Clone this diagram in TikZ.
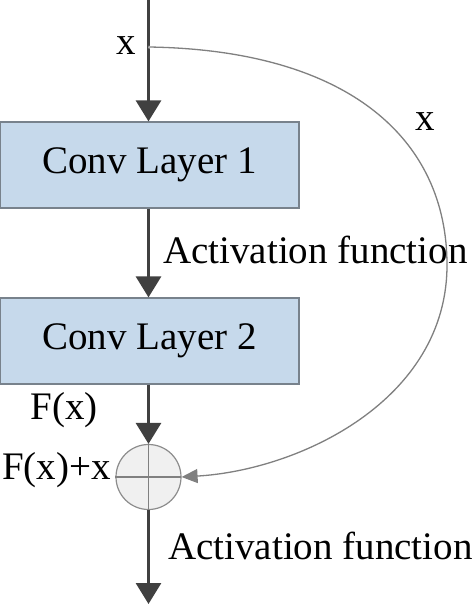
\documentclass[tikz,border=0pt]{standalone}
\usepackage{fontspec}
\setmainfont{Liberation Serif}
\usetikzlibrary{arrows.meta}
\definecolor{boxblue}{RGB}{198,217,235}
\definecolor{boxedge}{RGB}{120,130,140}
\definecolor{arr}{RGB}{64,64,64}
\begin{document}
\begin{tikzpicture}[x=1pt,y=-1pt,
  layer/.style={draw=boxedge,line width=1.2pt,fill=boxblue,minimum width=299pt,minimum height=86pt,inner sep=0pt,font=\fontsize{39}{42}\selectfont},
  lbl/.style={inner sep=0pt,font=\fontsize{39}{42}\selectfont},
  flow/.style={draw=arr,line width=3pt,-{Triangle[width=25pt,length=21pt]}},
  skip/.style={draw=gray,line width=1.3pt,-{Triangle[width=14pt,length=16pt]}}]
\useasboundingbox (0,0) rectangle (472,604);
\coordinate (top) at (148.5,0);
\coordinate (split) at (148.5,47);
\coordinate (bot) at (148.5,604);
\node[layer] (c1) at (149.5,165) {Conv Layer 1};
\node[layer] (c2) at (149.5,341) {Conv Layer 2};
\node[circle,draw=gray!90,line width=1.2pt,fill=gray!12,minimum size=65pt,inner sep=0pt] (sum) at (148.5,477) {};
\draw[gray,line width=1.4pt] (sum.north) -- (sum.south) (sum.west) -- (sum.east);
\draw[flow] (top) -- (c1.north -| top);
\draw[flow] (c1.south -| top) -- (c2.north -| top);
\draw[flow] (c2.south -| top) -- (sum.north);
\draw[flow] (sum.south) -- (bot);
\draw[white,line width=2.5pt,xshift=1.5pt,yshift=-1.5pt] (split) .. controls (350,50) and (447,140) .. (447,265) .. controls (447,400) and (300,470) .. (sum.east);
\draw[skip] (split) .. controls (350,50) and (447,140) .. (447,265) .. controls (447,400) and (300,470) .. (sum.east);
\node[lbl] (lx) at (126,46) {x};
\node[lbl] (rx) at (425,122) {x};
\node[lbl,anchor=west] (a1) at (163,250) {Activation function};
\node[lbl] (fx) at (64,410) {F(x)};
\node[lbl,anchor=west] (fxx) at (2,470) {F(x)+x};
\node[lbl,anchor=west] (a2) at (168,546) {Activation function};
\end{tikzpicture}
\end{document}
